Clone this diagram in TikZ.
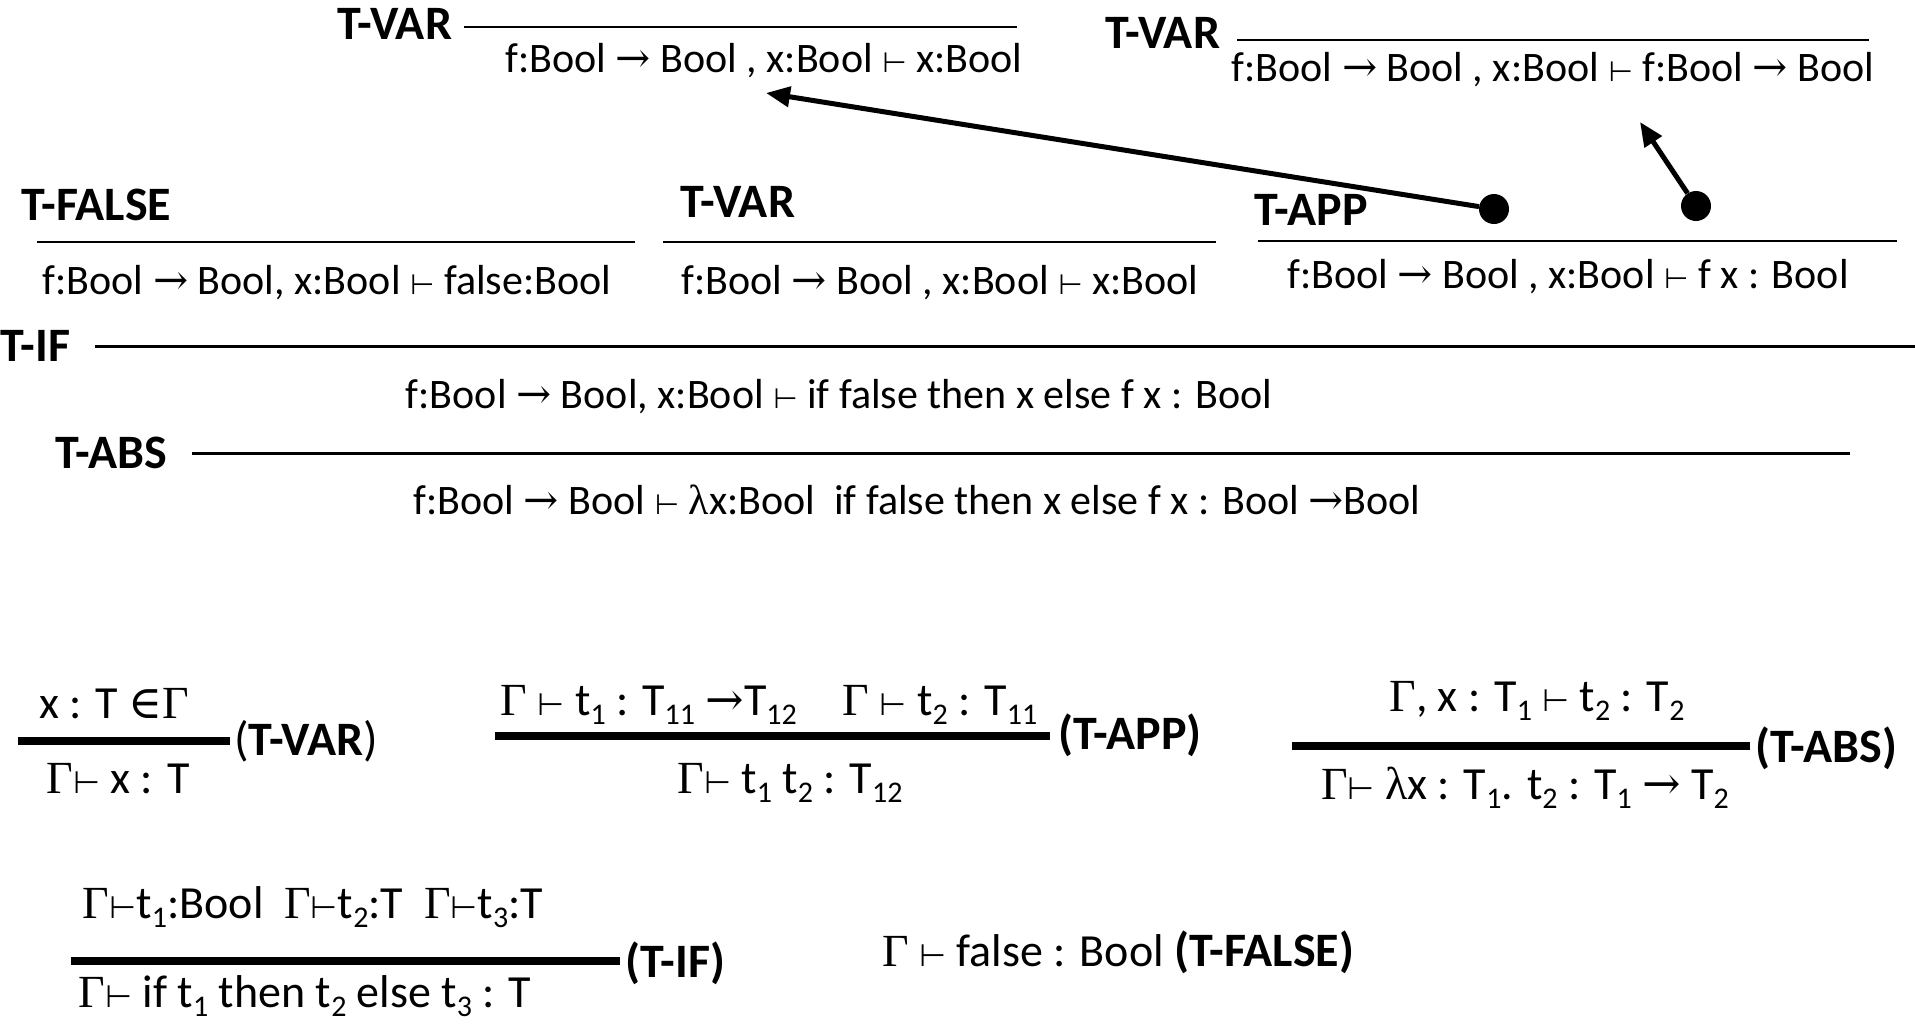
\documentclass[tikz,border=0pt]{standalone}
\usepackage{fontspec}
\setmainfont{Carlito}
\newfontfamily\grk{Liberation Serif}
\newfontfamily\symb{DejaVu Serif}
\newfontfamily\thin{DejaVu Sans}
\usetikzlibrary{arrows.meta}
% Greek letters and judgement symbols
\newcommand\Gm{{\grk Γ}}
\newcommand\lam{{\grk λ}}
\newcommand\ent{{\thin\fontsize{28}{28}\selectfont ⊢}}
\newcommand\entb{{\thin\fontsize{31}{31}\selectfont ⊢}}
\newcommand\ar{{\symb →}}
\newcommand\mem{{\symb ∈}}
% lowered index, as in t_1 or T_11
\newcommand\lo[1]{\raisebox{-0.2em}{\fontsize{30}{32}\selectfont #1}}
\begin{document}
\begin{tikzpicture}[x=1pt,y=-1pt,
  txt/.style={inner sep=0pt,anchor=base,font=\fontsize{42}{50}\selectfont},
  rule/.style={inner sep=0pt,anchor=base,font=\fontsize{46}{54}\selectfont},
  lbl/.style={inner sep=0pt,anchor=base west,font=\fontsize{48}{56}\selectfont\bfseries},
  tag/.style={inner sep=0pt,anchor=base west,font=\fontsize{48}{56}\selectfont},
  bar/.style={line width=2.5pt},
  longbar/.style={line width=3pt},
  thickbar/.style={line width=8.5pt},
  arr/.style={line width=5pt,-{Triangle[length=24pt,width=20pt]}},
  dot/.style={circle,fill,inner sep=0pt,minimum size=30pt}]
\useasboundingbox (0,0) rectangle (1915,1026);

% ---- derivation tree ----
% top row: the two variable lookups
\node[lbl] (varA) at (337,39) {T-VAR};
\draw[bar] (464,27) -- (1017,27);
\node[txt] (jA) at (764,72) {f:Bool \ar{} Bool , x:Bool \ent{} x:Bool};

\node[lbl] (varB) at (1105,48) {T-VAR};
\draw[bar] (1237,40) -- (1869,40);
\node[txt] (jB) at (1553,81) {f:Bool \ar{} Bool , x:Bool \ent{} f:Bool \ar{} Bool};

% second row
\node[lbl] (false) at (21,220) {T-FALSE};
\draw[bar] (37,242) -- (635,242);
\node[txt] (jF) at (327,294) {f:Bool \ar{} Bool, x:Bool \ent{} false:Bool};

\node[lbl] (varC) at (680,217) {T-VAR};
\draw[bar] (663,242) -- (1216,242);
\node[txt] (jC) at (940,294) {f:Bool \ar{} Bool , x:Bool \ent{} x:Bool};

\node[lbl] (app) at (1254,225) {T-APP};
\draw[bar] (1258,241) -- (1897,241);
\node[txt] (jP) at (1568,288) {f:Bool \ar{} Bool , x:Bool \ent{} f x : Bool};

% premises of the application, pointing up to their derivations
\node[dot] (d1) at (1494,209) {};
\node[dot] (d2) at (1696,206) {};
\coordinate (tA) at (766,93);
\coordinate (tB) at (1640,122);
\draw[arr] (d1) -- (tA);
\draw[arr] (d2) -- (tB);

% conditional and abstraction
\node[lbl] (if) at (0,361) {T-IF};
\draw[longbar] (95,346) -- (1915,346);
\node[txt] (jI) at (839,408) {f:Bool \ar{} Bool, x:Bool \ent{} if false then x else f x : Bool};

\node[lbl] (abs) at (55,468) {T-ABS};
\draw[longbar] (192,453) -- (1850,453);
\node[txt] (jL) at (917,514) {f:Bool \ar{} Bool \ent{} \lam x:Bool~~if false then x else f x : Bool \ar Bool};

% ---- typing rules ----
% T-VAR
\node[rule] (rVp) at (114,718) {x : T \mem\Gm};
\draw[thickbar] (18,741) -- (230,741);
\node[rule] (rVc) at (118,793) {\Gm\entb{} x : T};
\node[tag] (rVt) at (234,755) {(\textbf{T-VAR})};

% T-APP
\node[rule] (rPp) at (769,715) {\Gm{} \entb{} t\lo1 : T\lo{11} \ar T\lo{12}\quad\Gm{} \entb{} t\lo2 : T\lo{11}};
\draw[thickbar] (495,736) -- (1050,736);
\node[rule] (rPc) at (790,793) {\Gm\entb{} t\lo1 t\lo2 : T\lo{12}};
\node[lbl] (rPt) at (1058,749) {(T-APP)};

% T-ABS
\node[rule] (rAp) at (1537,711) {\Gm, x : T\lo1 \entb{} t\lo2 : T\lo2};
\draw[thickbar] (1292,746) -- (1750,746);
\node[rule] (rAc) at (1525,799) {\Gm\entb{} \lam x : T\lo1. t\lo2 : T\lo1 \ar{} T\lo2};
\node[lbl] (rAt) at (1755,762) {(T-ABS)};

% T-IF
\node[rule] (rIp) at (313,918) {\Gm\entb t\lo1:Bool~~\Gm\entb t\lo2:T~~\Gm\entb t\lo3:T};
\draw[thickbar] (71,961) -- (620,961);
\node[rule] (rIc) at (305,1007) {\Gm\entb{} if t\lo1 then t\lo2 else t\lo3 : T};
\node[lbl] (rIt) at (625,977) {(T-IF)};

% T-FALSE
\node[rule,anchor=base west] (rF) at (882,966) {\Gm{} \entb{} false : Bool {\fontsize{48}{56}\selectfont\bfseries(T-FALSE)}};
\end{tikzpicture}
\end{document}
